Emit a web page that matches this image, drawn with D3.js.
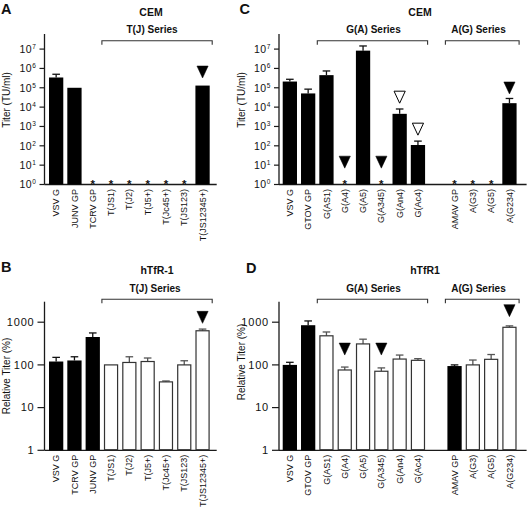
<!DOCTYPE html>
<html><head><meta charset="utf-8">
<script src="https://cdn.jsdelivr.net/npm/d3@7"></script>
<style>body{margin:0;background:#fff} svg{display:block} text{font-family:"Liberation Sans",Arial,sans-serif;fill:#111}</style>
</head><body><svg id="c" width="528" height="508"></svg>
<script>
// ---------------- data ----------------
const catsA = ["VSV G","JUNV GP","TCRV GP","T(JS1)","T(J2)","T(J5+)","T(Jc45+)","T(JS123)","T(JS12345+)"];
const valsA = [3.4e5, 1.0e5, null, null, null, null, null, null, 1.3e5];
const errA  = [5.0e5, null, null, null, null, null, null, null, null];
const fillA = ["k","k","k","k","k","k","k","k","k"];
const arrowsA = [{cat:"T(JS12345+)", level:3.2e5, open:false}];
const bracketsA = [{label:"T(J) Series", from:"T(JS1)", to:"T(JS12345+)"}];

const catsB = ["VSV G","TCRV GP","JUNV GP","T(JS1)","T(J2)","T(J5+)","T(Jc45+)","T(JS123)","T(JS12345+)"];
const valsB = [120, 127, 450, 100, 114, 120, 40, 100, 630];
const errB  = [150, 155, 560, null, 155, 145, 42, 125, 690];
const fillB = ["k","k","k","w","w","w","w","w","w"];
const arrowsB = [{cat:"T(JS12345+)", level:940, open:false}];
const bracketsB = [{label:"T(J) Series", from:"T(JS1)", to:"T(JS12345+)"}];

const catsC = ["VSV G","GTOV GP","G(AS1)","G(A4)","G(A5)","G(A345)","G(An4)","G(Ac4)","","AMAV GP","A(G3)","A(G5)","A(G234)"];
const valsC = [2.1e5, 5.1e4, 4.5e5, null, 8.3e6, null, 4.5e3, 110, null, null, null, null, 1.6e4];
const errC  = [2.75e5, 8.5e4, 7.4e5, null, 1.45e7, null, 8.0e3, 175, null, null, null, null, 2.8e4];
const fillC = ["k","k","k","k","k","k","k","k","k","k","k","k","k"];
const arrowsC = [
  {cat:"G(A4)", level:7, open:false},
  {cat:"G(A345)", level:7, open:false},
  {cat:"G(An4)", level:1.6e4, open:true},
  {cat:"G(Ac4)", level:355, open:true},
  {cat:"A(G234)", level:4.8e4, open:false}
];
const bracketsC = [{label:"G(A) Series", from:"G(AS1)", to:"G(Ac4)"},{label:"A(G) Series", from:"AMAV GP", to:"A(G234)"}];

const catsD = ["VSV G","GTOV GP","G(AS1)","G(A4)","G(A5)","G(A345)","G(An4)","G(Ac4)","","AMAV GP","A(G3)","A(G5)","A(G234)"];
const valsD = [100, 850, 480, 76, 310, 71, 137, 128, null, 94, 100, 135, 760];
const errD  = [115, 1070, 590, 89, 400, 85, 170, 140, null, 100, 130, 175, 820];
const fillD = ["k","k","w","w","w","w","w","w","w","k","w","w","w"];
const arrowsD = [
  {cat:"G(A4)", level:170, open:false},
  {cat:"G(A345)", level:170, open:false},
  {cat:"A(G234)", level:1350, open:false}
];
const bracketsD = [{label:"G(A) Series", from:"G(AS1)", to:"G(Ac4)"},{label:"A(G) Series", from:"AMAV GP", to:"A(G234)"}];

const ticksCEM = [1,10,100,1e3,1e4,1e5,1e6,1e7];
const ticksRel = [1,10,100,1000];

// ---------------- drawing ----------------
const svg = d3.select("#c");
const STEP = 18.3;
const INK = "#1a1a1a";

function panel(o){
  const g = svg.append("g");
  const n = o.cats.length;
  const x = d3.scaleBand().domain(d3.range(n)).range([o.x0, o.x0 + n*STEP]).paddingInner(0.22).paddingOuter(0.11);
  const y = d3.scaleLog().domain(o.ydom).range([o.yb, o.yt]);
  const idx = c => o.cats.indexOf(c);
  const cx = i => x(i) + x.bandwidth()/2;

  // axes lines
  g.append("line").attr("x1",o.ax).attr("x2",o.ax).attr("y1",y(o.ydom[0])).attr("y2",y(o.ydom[1]))
    .attr("stroke",INK).attr("stroke-width",1.3);
  g.append("line").attr("x1",o.ax).attr("x2",o.x0 + n*STEP + o.xext).attr("y1",o.yb).attr("y2",o.yb)
    .attr("stroke",INK).attr("stroke-width",1.3);
  // y ticks
  o.ticks.forEach(t=>{
    g.append("line").attr("x1",o.ax - o.tickSize).attr("x2",o.ax).attr("y1",y(t)).attr("y2",y(t))
      .attr("stroke",INK).attr("stroke-width",1.2);
    const tx = g.append("text").attr("x",o.ax - o.tickSize - 3).attr("y",y(t)+3.8)
      .attr("text-anchor","end").attr("font-size",o.sup?10.5:11).attr("letter-spacing",o.sup?0.6:0.8);
    if(o.sup){
      const e = Math.round(Math.log10(t));
      tx.append("tspan").text("10");
      tx.append("tspan").attr("dy",-4).attr("font-size",6.5).text(e);
    } else tx.text(String(t));
  });
  // y label
  g.append("text").attr("transform",`translate(${o.ylx},${o.yly}) rotate(-90)`)
    .attr("text-anchor","middle").attr("font-size",10).text(o.ylabel);

  // bars
  o.cats.forEach((c,i)=>{
    if(c==="") return;
    const v = o.vals[i];
    if(v==null){
      g.append("text").attr("x",cx(i)).attr("y",o.yb+3).attr("text-anchor","middle")
        .attr("font-size",11.5).attr("font-weight","bold").text("*");
    } else {
      const black = o.fills[i]==="k";
      const e = o.errs[i];
      if(e!=null){
        const ec = black ? "#111" : "#555";
        g.append("line").attr("x1",cx(i)).attr("x2",cx(i)).attr("y1",y(v)).attr("y2",y(e)).attr("stroke",ec).attr("stroke-width",1.3);
        g.append("line").attr("x1",cx(i)-3.8).attr("x2",cx(i)+3.8).attr("y1",y(e)).attr("y2",y(e)).attr("stroke",ec).attr("stroke-width",1.3);
      }
      if(black){
        g.append("rect").attr("x",x(i)).attr("width",x.bandwidth()).attr("y",y(v)).attr("height",o.yb - y(v)).attr("fill","#000");
      } else {
        g.append("rect").attr("x",x(i)+0.6).attr("width",x.bandwidth()-1.2).attr("y",y(v)).attr("height",o.yb - y(v)-0.6)
          .attr("fill","#fff").attr("stroke","#333").attr("stroke-width",1.2);
      }
    }
    // x label
    g.append("text").attr("transform",`translate(${cx(i)+3.1},${o.yb+4.5}) rotate(-90)`)
      .attr("text-anchor","end").attr("font-size",9).text(c);
  });

  // arrows
  o.arrows.forEach(a=>{
    const i = idx(a.cat), xc = cx(i), yb = y(a.level);
    const w = 5.6, h = 12;
    g.append("path").attr("d",`M${xc-w},${yb-h}L${xc+w},${yb-h}L${xc},${yb}Z`)
      .attr("fill",a.open?"#fff":"#000").attr("stroke","#000").attr("stroke-width",a.open?1:0.5).attr("stroke-linejoin","miter");
  });

  // brackets
  o.brackets.forEach((b,k)=>{
    const x1 = cx(idx(b.from)) - STEP/2, x2 = cx(idx(b.to)) + STEP/2 + 0.5;
    g.append("path").attr("d",`M${x1},${o.bry+4}V${o.bry}H${x2}V${o.bry+4}`)
      .attr("fill","none").attr("stroke","#333").attr("stroke-width",1.1);
    g.append("text").attr("x",(o.blx && o.blx[k]!=null)?o.blx[k]:(x1+x2)/2).attr("y",o.bly)
      .attr("text-anchor","middle").attr("font-size",10).attr("font-weight","bold").text(b.label);
  });

  // title & panel letter
  g.append("text").attr("x",o.tx).attr("y",o.ty).attr("text-anchor","middle").attr("font-size",10.5).attr("font-weight","bold").text(o.title);
  g.append("text").attr("x",o.lx).attr("y",o.ly).attr("font-size",14.5).attr("font-weight","bold").text(o.letter);
}

const domCEM = [1, Math.pow(10,7.78)];
const domRel = [1, Math.pow(10,3.48)];

panel({cats:catsA, vals:valsA, errs:errA, fills:fillA, arrows:arrowsA, brackets:bracketsA,
  x0:47, ax:44.5, xext:5, yb:184.5, yt:34, ydom:domCEM, ticks:ticksCEM, sup:true, tickSize:5,
  ylabel:"Titer (TU/ml)", ylx:9.5, yly:100, bry:40.7, bly:33, blx:[152],
  title:"CEM", tx:151, ty:15.5, letter:"A", lx:1, ly:13.5});

panel({cats:catsB, vals:valsB, errs:errB, fills:fillB, arrows:arrowsB, brackets:bracketsB,
  x0:47, ax:44.5, xext:5, yb:450.3, yt:301.7, ydom:domRel, ticks:ticksRel, sup:false, tickSize:7,
  ylabel:"Relative Titer (%)", ylx:9.5, yly:376, bry:299.3, bly:291.5, blx:[155],
  title:"hTfR-1", tx:157, ty:273.5, letter:"B", lx:1, ly:271.5});

panel({cats:catsC, vals:valsC, errs:errC, fills:fillC, arrows:arrowsC, brackets:bracketsC,
  x0:280.7, ax:279, xext:8, yb:184.5, yt:34, ydom:domCEM, ticks:ticksCEM, sup:true, tickSize:5,
  ylabel:"Titer (TU/ml)", ylx:245, yly:100, bry:40.7, bly:33, blx:[373.5,478.5],
  title:"CEM", tx:420, ty:15.5, letter:"C", lx:239.5, ly:13.5});

panel({cats:catsD, vals:valsD, errs:errD, fills:fillD, arrows:arrowsD, brackets:bracketsD,
  x0:280.7, ax:279, xext:8, yb:450.3, yt:301.7, ydom:domRel, ticks:ticksRel, sup:false, tickSize:7,
  ylabel:"Relative Titer (%)", ylx:245, yly:362, bry:299.3, bly:292, blx:[373.5,478.5],
  title:"hTfR1", tx:425, ty:273.5, letter:"D", lx:246, ly:272.5});
</script></body></html>
